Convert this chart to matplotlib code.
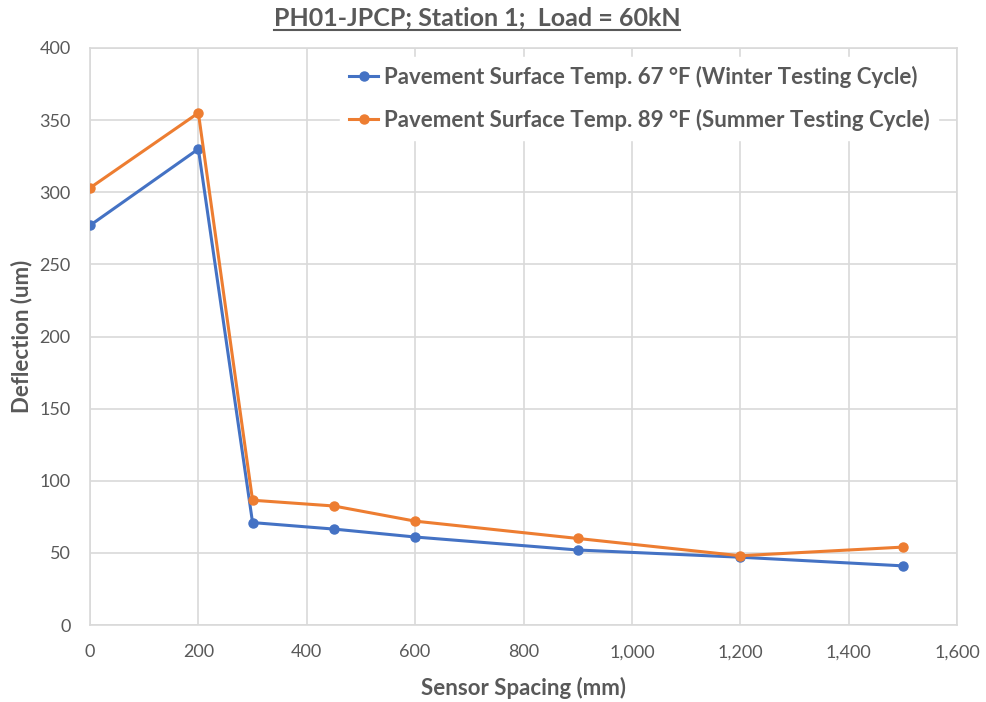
import matplotlib
matplotlib.use('Agg')
import matplotlib.pyplot as plt
from matplotlib.ticker import FuncFormatter, MultipleLocator
from matplotlib.lines import Line2D

# data
spacing = [0, 200, 300, 450, 600, 900, 1200, 1500]
winter = [277, 330, 71, 66.5, 61, 52, 47, 41]
summer = [303, 355, 86.5, 82.5, 72, 60, 48, 54]
labels = ['Pavement Surface Temp. 67 °F (Winter Testing Cycle)',
          'Pavement Surface Temp. 89 °F (Summer Testing Cycle)']
title = 'PH01-JPCP; Station 1;  Load = 60kN'

plt.rcParams['font.family'] = ['Lato', 'DejaVu Sans']
txt = '#595959'
grid = '#d9d9d9'

fig = plt.figure(figsize=(9.87, 7.02), dpi=100)
ax = fig.add_axes([90/987, 1-625/702, 867/987, 577/702])

ax.plot(spacing, winter, color='#4472c4', lw=2.2, marker='o', ms=6.5, label=labels[0], zorder=3)
ax.plot(spacing, summer, color='#ed7d31', lw=2.2, marker='o', ms=6.5, label=labels[1], zorder=3)

ax.set_xlim(0, 1600)
ax.set_ylim(0, 400)
ax.xaxis.set_major_locator(MultipleLocator(200))
ax.yaxis.set_major_locator(MultipleLocator(50))
ax.xaxis.set_major_formatter(FuncFormatter(lambda v, p: f'{int(v):,}'))
ax.grid(True, color=grid, lw=1.2)
ax.set_axisbelow(True)
for s in ax.spines.values():
    s.set_color(grid)
    s.set_linewidth(1.2)
ax.tick_params(length=0, labelsize=13, colors=txt)
ax.tick_params(axis='x', pad=14)
ax.tick_params(axis='y', pad=14)

ax.set_xlabel('Sensor Spacing (mm)', fontsize=16, fontweight='bold', color=txt, labelpad=12)
ax.set_ylabel('Deflection (um)', fontsize=16, fontweight='bold', color=txt)
ax.yaxis.set_label_coords(-68/867, 0.5)
ax.yaxis.label.set_va('center')

leg = ax.legend(loc='upper right', bbox_to_anchor=(1 - 12/867, 1 - 2/577),
                fontsize=16, frameon=True, framealpha=1,
                edgecolor='white', facecolor='white', handlelength=1.3,
                handletextpad=0.25, borderaxespad=0.3, borderpad=0.4,
                labelspacing=0.95)
for t in leg.get_texts():
    t.set_color(txt)
    t.set_fontweight('bold')

ttl = fig.text(477/987, 1-18/702, title, ha='center', va='center', fontsize=18,
               fontweight='bold', color=txt)

# underline the title
fig.canvas.draw()
bb = ttl.get_window_extent().transformed(fig.transFigure.inverted())
fig.add_artist(Line2D([bb.x0, bb.x1], [bb.y0 - 0.001, bb.y0 - 0.001],
                      transform=fig.transFigure, color=txt, lw=1.5))

fig.savefig('out.png', dpi=100)
